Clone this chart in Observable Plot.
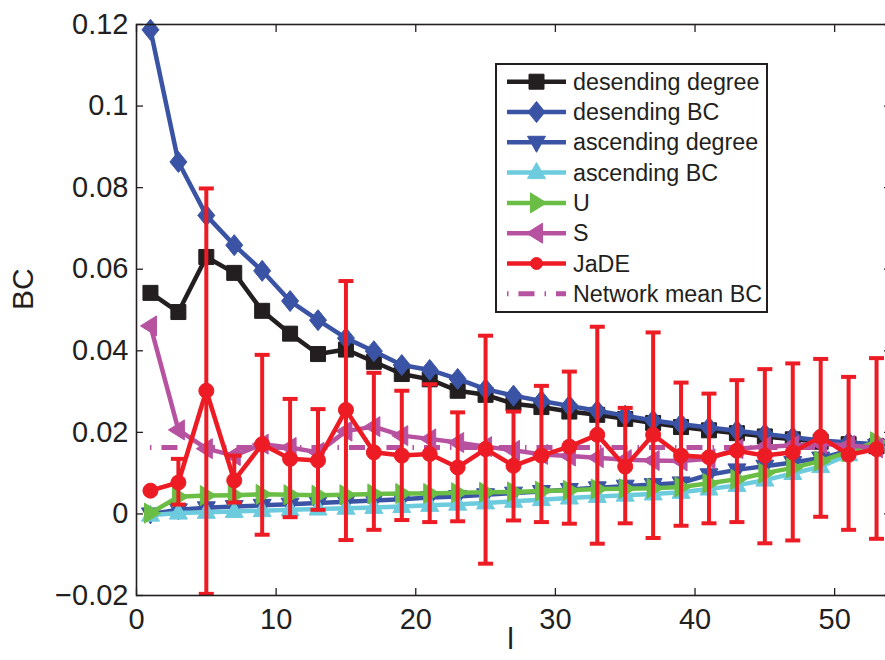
<!DOCTYPE html>
<html><head><meta charset="utf-8">
<script src="https://cdn.jsdelivr.net/npm/d3@7"></script>
<script src="https://cdn.jsdelivr.net/npm/@observablehq/plot@0.6"></script>
<style>
body{margin:0;background:#fff;overflow:hidden}
#wrap{position:relative;width:885px;height:660px;overflow:hidden;font-family:"Liberation Sans",Arial,sans-serif}
#wrap > svg{overflow:hidden}
#legend{position:absolute;left:495px;top:63px;width:269px;height:246px;border:2px solid #231f20;background:#fff}
</style></head><body><div id="wrap"></div>
<script>
// ---- data ----
const xs = [1,3,5,7,9,11,13,15,17,19,21,23,25,27,29,31,33,35,37,39,41,43,45,47,49,51,53];
const descDegree = [0.0542,0.0495,0.0630,0.0591,0.0498,0.0442,0.0392,0.0403,0.0373,0.0343,0.0330,0.0302,0.0292,0.0270,0.0262,0.0251,0.0243,0.0233,0.0223,0.0213,0.0205,0.0198,0.0190,0.0183,0.0177,0.0171,0.0166];
const descBC = [0.1187,0.0863,0.0732,0.0659,0.0596,0.0522,0.0475,0.0431,0.0399,0.0365,0.0353,0.0331,0.0306,0.0290,0.0277,0.0265,0.0253,0.0241,0.0229,0.0220,0.0212,0.0204,0.0196,0.0188,0.0180,0.0175,0.0171];
const ascDegree = [0.0000,0.0010,0.0015,0.0018,0.0021,0.0024,0.0027,0.0030,0.0033,0.0036,0.0040,0.0043,0.0047,0.0051,0.0055,0.0060,0.0064,0.0068,0.0072,0.0076,0.0096,0.0108,0.0117,0.0126,0.0137,0.0155,0.0168];
const ascBC = [-0.0003,0.0002,0.0004,0.0006,0.0008,0.0010,0.0012,0.0014,0.0016,0.0018,0.0021,0.0024,0.0027,0.0031,0.0035,0.0039,0.0043,0.0046,0.0049,0.0053,0.0061,0.0070,0.0083,0.0099,0.0116,0.0145,0.0173];
const uVals = [0.0002,0.0042,0.0045,0.0046,0.0048,0.0047,0.0046,0.0047,0.0049,0.0050,0.0050,0.0052,0.0053,0.0054,0.0056,0.0058,0.0061,0.0062,0.0063,0.0066,0.0075,0.0085,0.0100,0.0113,0.0130,0.0152,0.0177];
const sVals = [0.0461,0.0206,0.0160,0.0143,0.0171,0.0163,0.0151,0.0203,0.0214,0.0192,0.0184,0.0175,0.0165,0.0156,0.0146,0.0142,0.0138,0.0133,0.0131,0.0130,0.0135,0.0160,0.0165,0.0168,0.0172,0.0168,0.0162];
const jadeMean = [0.0057,0.0077,0.0302,0.0082,0.0171,0.0135,0.0131,0.0255,0.0151,0.0143,0.0147,0.0114,0.0159,0.0118,0.0143,0.0165,0.0194,0.0116,0.0194,0.0143,0.0139,0.0155,0.0143,0.0151,0.0189,0.0145,0.0159];
const jadeHi = [0.0057,0.0135,0.0798,0.0143,0.0390,0.0282,0.0257,0.0571,0.0346,0.0302,0.0318,0.0249,0.0437,0.0251,0.0314,0.0349,0.0459,0.0260,0.0445,0.0322,0.0295,0.0328,0.0355,0.0369,0.0380,0.0336,0.0382];
const jadeLo = [0.0057,0.0023,-0.0196,0.0028,-0.0051,-0.0008,0.0010,-0.0064,-0.0039,-0.0015,-0.0020,-0.0018,-0.0122,-0.0016,-0.0020,-0.0024,-0.0073,-0.0023,-0.0059,-0.0029,-0.0023,-0.0020,-0.0072,-0.0065,-0.0007,-0.0039,-0.0061];
const meanBC = 0.0163;
const xTicks = [0,10,20,30,40,50];
const yTicks = [-0.02,0,0.02,0.04,0.06,0.08,0.1,0.12];
const legendLabels = ["desending degree","desending BC","ascending degree","ascending BC","U","S","JaDE","Network mean BC"];

// ---- styles ----
const C = {black:"#231f20", blue:"#3a53a4", cyan:"#6ccbdd", green:"#6abd45", magenta:"#b752a0", red:"#ed1c24"};
const sym = {
  square:{draw(c){c.moveTo(-7.5,-7.5);c.lineTo(7.5,-7.5);c.lineTo(7.5,7.5);c.lineTo(-7.5,7.5);c.closePath();}},
  diamond:{draw(c){c.moveTo(0,-10.5);c.lineTo(8.5,0);c.lineTo(0,10.5);c.lineTo(-8.5,0);c.closePath();}},
  down:{draw(c){c.moveTo(-9,-6);c.lineTo(9,-6);c.lineTo(0,10);c.closePath();}},
  up:{draw(c){c.moveTo(-9,6);c.lineTo(9,6);c.lineTo(0,-10);c.closePath();}},
  right:{draw(c){c.moveTo(-6,-10);c.lineTo(-6,10);c.lineTo(10,0);c.closePath();}},
  left:{draw(c){c.moveTo(6,-10);c.lineTo(6,10);c.lineTo(-10,0);c.closePath();}},
  circle:{draw(c){c.moveTo(7.5,0);c.arc(0,0,7.5,0,2*Math.PI);}},
  cap:{draw(c){c.moveTo(-7.5,0);c.lineTo(7.5,0);}}
};
const series = [
  {values:descDegree, color:C.black, symbol:sym.square},
  {values:descBC, color:C.blue, symbol:sym.diamond},
  {values:ascDegree, color:C.blue, symbol:sym.down},
  {values:ascBC, color:C.cyan, symbol:sym.up},
  {values:uVals, color:C.green, symbol:sym.right},
  {values:sVals, color:C.magenta, symbol:sym.left}
];
const jade = xs.map((x,i)=>({x, y:jadeMean[i], hi:jadeHi[i], lo:jadeLo[i]}));
const dash = "1.5 10 16 10";
const fmt = d => d < 0 ? "\u2212" + String(Math.abs(d)) : String(d);

const marks = [];
for (const s of series) {
  const rows = xs.map((x,i)=>({x, y:s.values[i]}));
  marks.push(Plot.line(rows, {x:"x", y:"y", stroke:s.color, strokeWidth:4.5}));
  marks.push(Plot.dot(rows, {x:"x", y:"y", symbol:s.symbol, fill:s.color, stroke:s.color, strokeWidth:1}));
}
marks.push(Plot.ruleY([meanBC], {x1:xs[0], x2:xs[xs.length-1], stroke:C.magenta, strokeWidth:5, strokeDasharray:dash}));
marks.push(Plot.ruleX(jade, {x:"x", y1:"lo", y2:"hi", stroke:C.red, strokeWidth:4}));
marks.push(Plot.dot(jade, {x:"x", y:"hi", symbol:sym.cap, fill:"none", stroke:C.red, strokeWidth:4}));
marks.push(Plot.dot(jade, {x:"x", y:"lo", symbol:sym.cap, fill:"none", stroke:C.red, strokeWidth:4}));
marks.push(Plot.line(jade, {x:"x", y:"y", stroke:C.red, strokeWidth:4.5}));
marks.push(Plot.dot(jade, {x:"x", y:"y", symbol:sym.circle, fill:C.red, stroke:C.red, strokeWidth:1}));

const plot = Plot.plot({
  width:885, height:660,
  marginLeft:136, marginTop:24, marginBottom:65, marginRight:-5,
  x:{domain:[0,54], label:null},
  y:{domain:[-0.02,0.12], label:null},
  style:{fontFamily:'"Liberation Sans", Arial, sans-serif', fontSize:"29px", color:C.black, background:"#fff", overflow:"hidden"},
  marks:[
    ...marks,
    Plot.frame({stroke:C.black, strokeWidth:1.6}),
    Plot.axisX(xTicks, {anchor:"bottom", tickSize:-7, tickPadding:20, tickFormat:fmt, fontSize:29, label:null, strokeWidth:1.3}),
    Plot.axisX(xTicks, {anchor:"top", tickSize:-7, tickFormat:()=>"", label:null, strokeWidth:1.3}),
    Plot.axisY(yTicks, {anchor:"left", tickSize:-7, tickPadding:15, tickFormat:fmt, fontSize:29, label:null, strokeWidth:1.3}),
    Plot.axisY(yTicks, {anchor:"right", tickSize:-7, tickFormat:()=>"", label:null, strokeWidth:1.3}),
    Plot.text(["BC"], {frameAnchor:"left", rotate:-90, dx:-113, fontSize:30, fill:C.black}),
    Plot.text(["l"], {frameAnchor:"bottom", dy:53, dx:-3, fontSize:30, fill:C.black})
  ]
});
const wrap = document.getElementById("wrap");
wrap.appendChild(plot);

// ---- legend (inside the axes, top right) ----
const leg = document.createElement("div");
leg.id = "legend";
wrap.appendChild(leg);
const lsvg = d3.select(leg).append("svg").attr("width",269).attr("height",246);
const legendItems = [
  {color:C.black, symbol:sym.square},
  {color:C.blue, symbol:sym.diamond},
  {color:C.blue, symbol:sym.down},
  {color:C.cyan, symbol:sym.up},
  {color:C.green, symbol:sym.right},
  {color:C.magenta, symbol:sym.left},
  {color:C.red, symbol:{draw(c){c.moveTo(6,0);c.arc(0,0,6,0,2*Math.PI);}}},
  {color:C.magenta, symbol:null, dashed:true}
];
legendItems.forEach((it,i)=>{
  const cy = 16.7 + 30.3*i;
  const g = lsvg.append("g").attr("transform",`translate(0,${cy})`);
  g.append("line").attr("x1",10).attr("x2",69).attr("y1",0).attr("y2",0)
    .attr("stroke",it.color).attr("stroke-width",it.dashed?5:4.5)
    .attr("stroke-dasharray",it.dashed?dash:null);
  if (it.symbol) {
    const p = d3.path(); it.symbol.draw(p);
    g.append("path").attr("d",p.toString()).attr("transform","translate(39.5,0)")
      .attr("fill",it.color).attr("stroke",it.color);
  }
  g.append("text").attr("x",76).attr("y",0).attr("dy","0.35em")
    .attr("font-family",'"Liberation Sans", Arial, sans-serif').attr("font-size",23.3)
    .attr("fill",C.black).text(legendLabels[i]);
});
</script>
</body></html>
